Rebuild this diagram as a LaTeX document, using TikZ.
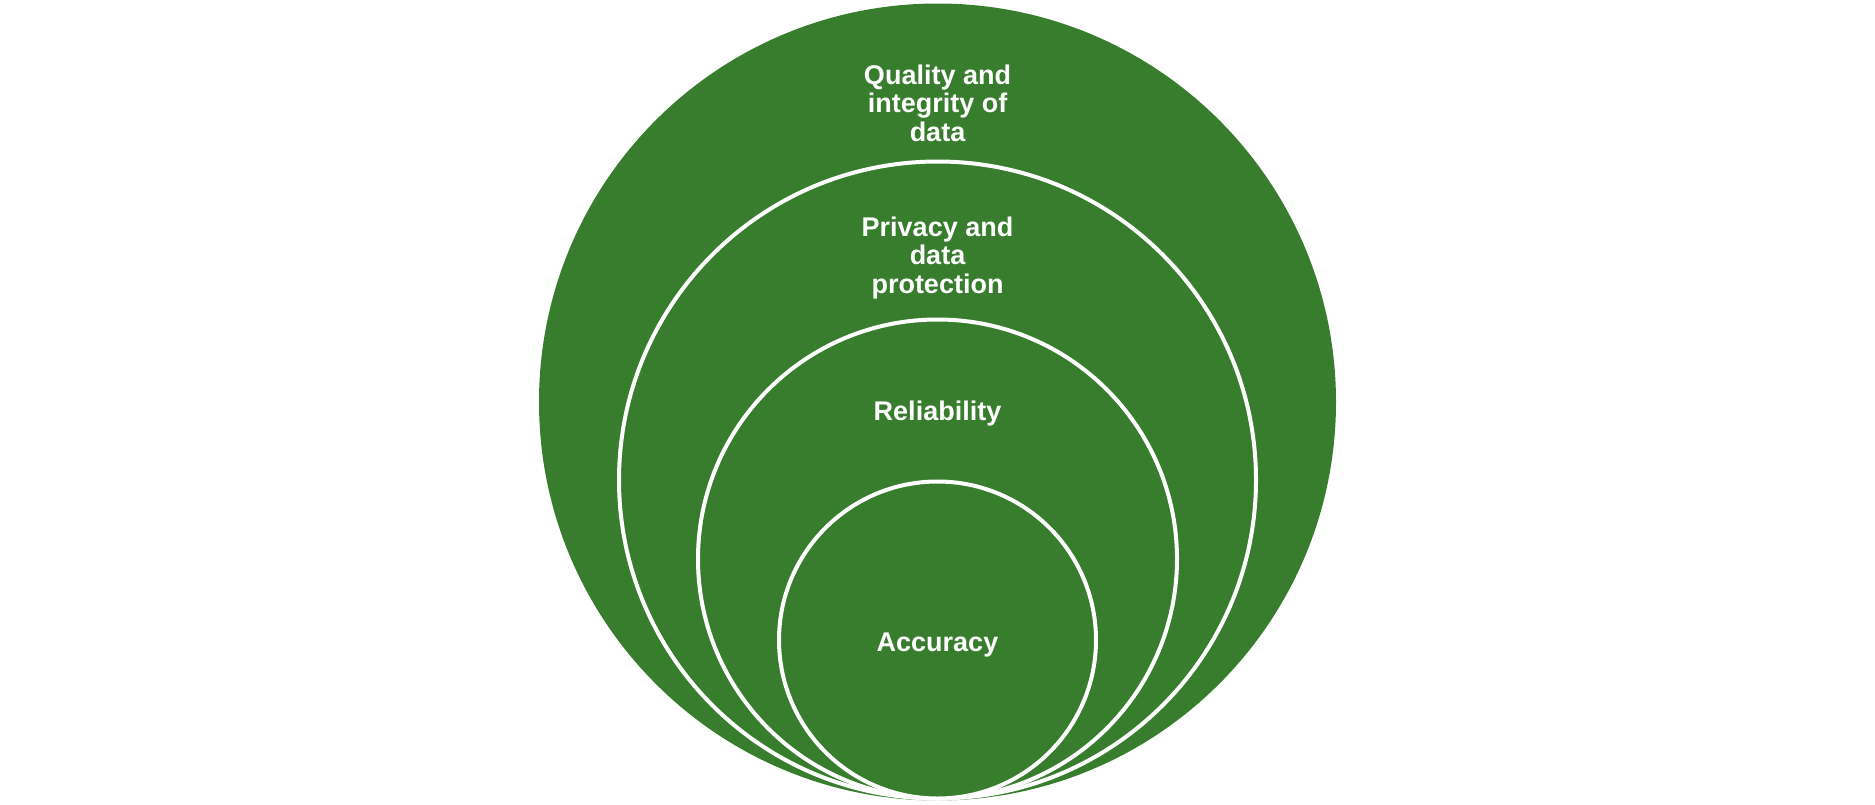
\documentclass[tikz,border=0pt]{standalone}
\usepackage{fontspec}
\setmainfont{Liberation Sans}
\definecolor{leaf}{HTML}{387C2E}
\begin{document}
\begin{tikzpicture}[x=1pt,y=-1pt,
  ring/.style={circle,fill=leaf,draw=white,line width=4pt,inner sep=0pt},
  outerring/.style={circle,fill=leaf,inner sep=0pt},
  lbl/.style={text=white,font=\fontsize{27}{28.5}\selectfont\bfseries,align=center}]
\useasboundingbox (0,0) rectangle (1875,804);
\node[outerring,minimum size=797pt] (c1) at (937.5,402) {};
\node[ring,minimum size=637pt] (c2) at (937.5,480) {};
\node[ring,minimum size=479pt] (c3) at (937.5,559) {};
\node[ring,minimum size=317pt] (c4) at (937.5,640) {};
\node[lbl] (t1) at (937.5,103) {Quality and\\integrity of\\data};
\node[lbl] (t2) at (937.5,258) {Privacy and\\data\\protection};
\node[lbl] (t3) at (937.5,414) {Reliability};
\node[lbl] (t4) at (937.5,645) {Accuracy};
\end{tikzpicture}
\end{document}
